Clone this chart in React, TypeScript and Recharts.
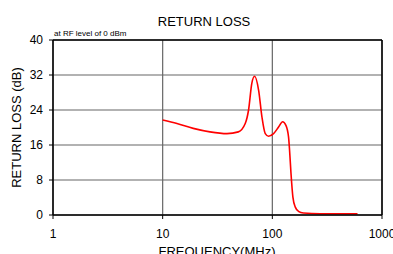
import React from "react";
import {
  ComposedChart,
  Line,
  XAxis,
  YAxis,
  CartesianGrid,
  ReferenceLine,
  Customized,
} from "recharts";

const frequencyMHz = [
  10, 13.5, 19, 27, 38.6, 49, 56.6, 60.7, 65, 68.9, 75, 80.4, 86.2, 92.4, 102.6,
  114, 124, 133, 140.6, 143.6, 148, 154, 162, 173, 192, 273, 598,
];
const returnLossDb = [
  21.7, 20.9, 19.8, 19.0, 18.6, 19.0, 20.9, 24.0, 30.1, 31.7, 28.5, 22.4, 18.6,
  18.0, 18.6, 20.1, 21.3, 20.5, 17.8, 14.8, 9.5, 4.1, 1.8, 0.85, 0.45, 0.3, 0.3,
];
const xTicks = [1, 10, 100, 1000];
const yTicks = [0, 8, 16, 24, 32, 40];

const title = "RETURN LOSS";
const subtitle = "at RF level of 0 dBm";
const xLabel = "FREQUENCY(MHz)";
const yLabel = "RETURN LOSS (dB)";

const data = frequencyMHz.map((f, i) => ({ f, rl: returnLossDb[i] }));

const FONT = "'Liberation Sans', Arial, sans-serif";

const Texts = () => (
  <g fontFamily={FONT} fill="#000">
    <text x={204} y={26} textAnchor="middle" fontSize={13}>
      {title}
    </text>
    <text x={54} y={36} textAnchor="start" fontSize={8}>
      {subtitle}
    </text>
    <text x={217} y={256} textAnchor="middle" fontSize={13}>
      {xLabel}
    </text>
    <text
      x={21}
      y={127.5}
      textAnchor="middle"
      fontSize={13}
      transform="rotate(-90 21 127.5)"
    >
      {yLabel}
    </text>
  </g>
);

export default function App() {
  return (
    <div style={{ position: "absolute", left: 0, top: 0 }}>
      <ComposedChart
        width={393}
        height={254}
        data={data}
        margin={{ top: 40, right: 11, left: 0, bottom: 0 }}
        style={{ fontFamily: FONT }}
      >
        <CartesianGrid stroke="#666" strokeWidth={1.2} />
        <XAxis
          dataKey="f"
          type="number"
          scale="log"
          domain={[1, 1000]}
          ticks={xTicks}
          interval={0}
          height={39}
          tickSize={4}
          tickMargin={10}
          allowDataOverflow
          axisLine={{ stroke: "#000", strokeWidth: 1.5 }}
          tickLine={{ stroke: "#000" }}
          tick={{ fill: "#000", fontSize: 12 }}
        />
        <YAxis
          type="number"
          domain={[0, 40]}
          ticks={yTicks}
          interval={0}
          width={53}
          tickSize={4}
          tickMargin={6}
          axisLine={{ stroke: "#000", strokeWidth: 1.5 }}
          tickLine={{ stroke: "#000" }}
          tick={{ fill: "#000", fontSize: 12 }}
        />
        <ReferenceLine y={40} stroke="#000" strokeWidth={1.5} />
        <ReferenceLine x={1000} stroke="#000" strokeWidth={1.5} />
        <Line
          type="monotone"
          dataKey="rl"
          stroke="#ff0000"
          strokeWidth={1.6}
          dot={false}
          isAnimationActive={false}
        />
        <Customized component={Texts} />
      </ComposedChart>
    </div>
  );
}
